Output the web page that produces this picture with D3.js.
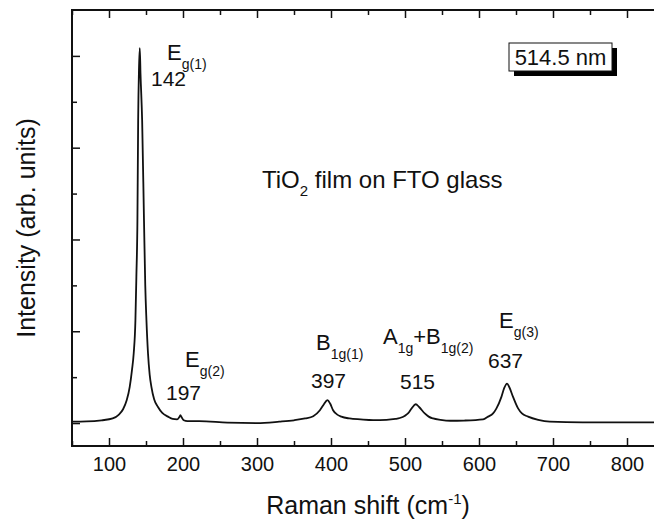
<!DOCTYPE html>
<html>
<head>
<meta charset="utf-8">
<script src="https://cdn.jsdelivr.net/npm/d3@7"></script>
<style>
  body { margin: 0; background: #fff; }
  text { font-family: "Liberation Sans", Arial, sans-serif; fill: #111; }
</style>
</head>
<body>
<div id="chart"></div>
<script>
// Raman spectrum (shift in cm-1, intensity in arb. units)
const shift = [50, 70, 90, 105, 113, 119, 124, 128, 131, 133.4, 135.7, 137, 138.4, 139.4, 140.5, 141.6,
    142.6, 144.8, 147.3, 149, 150.6, 152.7, 155, 157.3, 161, 166.2, 172, 179.7, 186, 192, 195, 196.5,
    198, 201, 206, 222, 260, 300, 330, 350, 365, 376, 385, 390, 395.2, 399, 402.8, 408, 414, 425,
    440, 457, 475, 487, 493, 500, 504, 509, 514.5, 519, 526.7, 532, 538, 548, 561, 580, 605.5, 612.3,
    619, 623.6, 630.3, 634, 637.9, 641, 646, 652.8, 658, 666.3, 680, 695.6, 740, 790, 830, 850];
const intensity = [0.03, 0.035, 0.06, 0.10, 0.18, 0.30, 0.50, 0.79, 1.15, 1.52, 2.24, 3.2, 4.41, 6.59, 7.7, 8.17,
    7.6, 6.59, 4.41, 3.0, 2.24, 1.52, 1.05, 0.79, 0.52, 0.35, 0.22, 0.14, 0.09, 0.08, 0.13, 0.17,
    0.13, 0.06, 0.04, 0.04, 0.01, 0.0, 0.03, 0.06, 0.10, 0.15, 0.28, 0.40, 0.50, 0.42, 0.28, 0.19, 0.14, 0.10,
    0.08, 0.065, 0.07, 0.09, 0.11, 0.16, 0.21, 0.32, 0.41, 0.35, 0.21, 0.14, 0.10, 0.07, 0.05, 0.055, 0.08, 0.14,
    0.21, 0.32, 0.57, 0.76, 0.86, 0.78, 0.57, 0.32, 0.21, 0.14, 0.07, 0.03, 0.015, 0.015, 0.015, 0.015];

const xMajor = [100, 200, 300, 400, 500, 600, 700, 800];
const xMinor = [50, 150, 250, 350, 450, 550, 650, 750, 850];
const yMajor = [0, 2, 4, 6, 8];
const yMinor = [1, 3, 5, 7];

// peak labels: mode name parts [text, isSub] and the number under it
const peakNames = [
    [["E", 0], ["g(1)", 1]],
    [["E", 0], ["g(2)", 1]],
    [["B", 0], ["1g(1)", 1]],
    [["A", 0], ["1g", 1], ["+B", 0], ["1g(2)", 1]],
    [["E", 0], ["g(3)", 1]]
];
const peakNumbers = ["142", "197", "397", "515", "637"];

const width = 654;
const height = 521;
const mLeft = 72, mRight = 664, mTop = 10, mBottom = 446;

const svg = d3.select("#chart")
    .append("svg")
    .attr("width", width)
    .attr("height", height);

const x = d3.scaleLinear().domain([50, 850]).range([mLeft, mRight]);
const y = d3.scaleLinear().domain([-0.5, 9]).range([mBottom, mTop]);

function drawAxis(axis, tr, labels) {
    const g = svg.append("g")
        .attr("transform", tr)
        .call(axis);
    g.select(".domain").remove();
    g.selectAll("line").attr("stroke", "#111").attr("stroke-width", 1.5);
    if (!labels) g.selectAll("text").remove();
    return g;
}

// bottom
drawAxis(d3.axisBottom(x).tickValues(xMajor).tickSize(-8).tickSizeOuter(0).tickPadding(11),
    "translate(0," + mBottom + ")", true)
    .selectAll("text").attr("font-size", 20).style("font-family", "Liberation Sans, Arial, sans-serif");
drawAxis(d3.axisBottom(x).tickValues(xMinor).tickSize(-5).tickSizeOuter(0), "translate(0," + mBottom + ")", false);
// top
drawAxis(d3.axisTop(x).tickValues(xMajor).tickSize(-8).tickSizeOuter(0), "translate(0," + mTop + ")", false);
drawAxis(d3.axisTop(x).tickValues(xMinor).tickSize(-5).tickSizeOuter(0), "translate(0," + mTop + ")", false);
// left
drawAxis(d3.axisLeft(y).tickValues(yMajor).tickSize(-8).tickSizeOuter(0), "translate(" + mLeft + ",0)", false);
drawAxis(d3.axisLeft(y).tickValues(yMinor).tickSize(-5).tickSizeOuter(0), "translate(" + mLeft + ",0)", false);
// right
drawAxis(d3.axisRight(y).tickValues(yMajor).tickSize(-8).tickSizeOuter(0), "translate(" + mRight + ",0)", false);

svg.append("rect")
    .attr("x", mLeft).attr("y", mTop)
    .attr("width", mRight - mLeft).attr("height", mBottom - mTop)
    .attr("fill", "none")
    .attr("stroke", "#111")
    .attr("stroke-width", 2);

svg.append("clipPath").attr("id", "plot")
    .append("rect")
    .attr("x", mLeft).attr("y", mTop)
    .attr("width", mRight - mLeft).attr("height", mBottom - mTop);

const line = d3.line()
    .x(i => x(shift[i]))
    .y(i => y(intensity[i]))
    .curve(d3.curveMonotoneX);

svg.append("path")
    .datum(d3.range(shift.length))
    .attr("clip-path", "url(#plot)")
    .attr("d", line)
    .attr("fill", "none")
    .attr("stroke", "#111")
    .attr("stroke-width", 1.8);

// peak annotations
const namePos = [[167, 60], [185, 367], [316, 350], [383, 344], [499, 328]];
const numPos = [[151, 86], [166, 400], [311, 388], [400, 389], [488, 368]];

namePos.forEach((p, k) => {
    const t = svg.append("text")
        .attr("x", p[0]).attr("y", p[1])
        .attr("font-size", 22);
    let down = false;
    peakNames[k].forEach(part => {
        const s = t.append("tspan").text(part[0]);
        if (part[1]) {
            s.attr("font-size", 14).attr("dy", down ? 0 : 9);
            down = true;
        } else {
            if (down) s.attr("dy", -9);
            down = false;
        }
    });
});

svg.selectAll(".num")
    .data(peakNumbers)
    .enter()
    .append("text")
    .attr("class", "num")
    .attr("x", (d, i) => numPos[i][0])
    .attr("y", (d, i) => numPos[i][1])
    .attr("font-size", 21)
    .text(d => d);

// sample label
const sample = svg.append("text")
    .attr("x", 262).attr("y", 188)
    .attr("font-size", 24);
sample.append("tspan").text("TiO");
sample.append("tspan").text("2").attr("font-size", 15).attr("dy", 8);
sample.append("tspan").text(" film on FTO glass").attr("dy", -8);

// laser line box
svg.append("rect")
    .attr("x", 514).attr("y", 48).attr("width", 103).attr("height", 28)
    .attr("fill", "#000");
svg.append("rect")
    .attr("x", 509).attr("y", 43).attr("width", 103).attr("height", 28)
    .attr("fill", "#fff").attr("stroke", "#111").attr("stroke-width", 1);
svg.append("text")
    .attr("x", 560.5).attr("y", 65)
    .attr("text-anchor", "middle")
    .attr("font-size", 22)
    .text("514.5 nm");

// axis titles
const xt = svg.append("text")
    .attr("x", (mLeft + mRight) / 2).attr("y", 514)
    .attr("text-anchor", "middle")
    .attr("font-size", 25);
xt.append("tspan").text("Raman shift (cm");
xt.append("tspan").text("-1").attr("font-size", 15).attr("dy", -10);
xt.append("tspan").text(")").attr("dy", 10);

svg.append("text")
    .attr("transform", "translate(35," + ((mTop + mBottom) / 2) + ") rotate(-90)")
    .attr("text-anchor", "middle")
    .attr("font-size", 25)
    .text("Intensity (arb. units)");
</script>
</body>
</html>
